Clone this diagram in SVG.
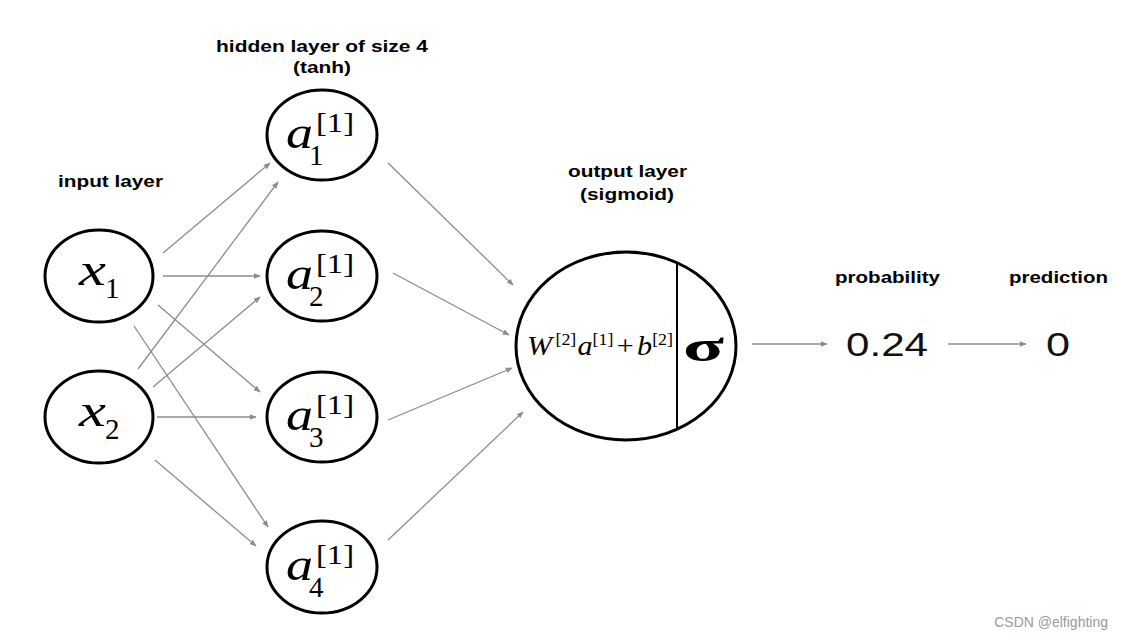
<svg xmlns="http://www.w3.org/2000/svg" width="1124" height="640" viewBox="0 0 1124 640">
<style>
.node{fill:#fff;stroke:#000;stroke-width:3}
.lbl{font-family:"Liberation Sans",Arial,sans-serif;font-weight:bold;font-size:17px;fill:#000}
.var{font-family:"Liberation Serif","Times New Roman",serif;font-style:italic;font-size:47px;fill:#000}
.sub{font-family:"Liberation Serif","Times New Roman",serif;font-size:29px;fill:#000}
.sup{font-family:"Liberation Serif","Times New Roman",serif;font-size:28px;fill:#000}
.eq{font-family:"Liberation Serif","Times New Roman",serif;font-size:27px;fill:#000}
.num{font-family:"Liberation Sans",Arial,sans-serif;font-size:33px;fill:#111}
.conn line{stroke:#8c8c8c;stroke-width:1.3;marker-end:url(#ah)}
</style>
<defs>
<marker id="ah" viewBox="0 0 10 10" refX="9" refY="5" markerWidth="7" markerHeight="7" markerUnits="userSpaceOnUse" orient="auto">
<path d="M0,1 L10,5 L0,9 z" fill="#8c8c8c"/>
</marker>
</defs>
<rect width="1124" height="640" fill="#fff"/>

<g id="labels">
<text class="lbl" x="216" y="52" textLength="212" lengthAdjust="spacingAndGlyphs">hidden layer of size 4</text>
<text class="lbl" x="293" y="73" textLength="58" lengthAdjust="spacingAndGlyphs">(tanh)</text>
<text class="lbl" x="58" y="187" textLength="105" lengthAdjust="spacingAndGlyphs">input layer</text>
<text class="lbl" x="568" y="177" textLength="119" lengthAdjust="spacingAndGlyphs">output layer</text>
<text class="lbl" x="580" y="200" textLength="94" lengthAdjust="spacingAndGlyphs">(sigmoid)</text>
<text class="lbl" x="835" y="283" textLength="105" lengthAdjust="spacingAndGlyphs">probability</text>
<text class="lbl" x="1009" y="283" textLength="99" lengthAdjust="spacingAndGlyphs">prediction</text>
</g>

<g class="conn" id="connectors">
<line x1="163" y1="253" x2="270" y2="163"/>
<line x1="138" y1="369" x2="278" y2="182"/>
<line x1="163" y1="276" x2="260" y2="276"/>
<line x1="153" y1="387" x2="260" y2="297"/>
<line x1="158" y1="305" x2="260" y2="392"/>
<line x1="157" y1="417" x2="256" y2="417"/>
<line x1="134" y1="326" x2="268" y2="527"/>
<line x1="155" y1="460" x2="256" y2="546"/>
<line x1="388" y1="163" x2="513" y2="285"/>
<line x1="393" y1="273" x2="509" y2="335"/>
<line x1="388" y1="420" x2="512" y2="368"/>
<line x1="388" y1="540" x2="523" y2="412"/>
<line x1="752" y1="344" x2="827" y2="344"/>
<line x1="948" y1="344" x2="1026" y2="344"/>
</g>

<g id="x1">
<ellipse class="node" cx="99" cy="276" rx="54" ry="46"/>
<text class="var" x="79" y="285" textLength="27" lengthAdjust="spacingAndGlyphs">x</text>
<text class="sub" x="105" y="298">1</text>
</g>
<g id="x2">
<ellipse class="node" cx="99" cy="417" rx="54" ry="46"/>
<text class="var" x="79" y="426" textLength="27" lengthAdjust="spacingAndGlyphs">x</text>
<text class="sub" x="105" y="439">2</text>
</g>

<g id="a1">
<ellipse class="node" cx="322" cy="135" rx="55" ry="45"/>
<text class="var" x="286" y="148" textLength="27" lengthAdjust="spacingAndGlyphs">a</text>
<text class="sub" x="309" y="165">1</text>
<text class="sup" x="316" y="132" textLength="38" lengthAdjust="spacingAndGlyphs">[1]</text>
</g>
<g id="a2">
<ellipse class="node" cx="322" cy="276" rx="55" ry="45"/>
<text class="var" x="286" y="289" textLength="27" lengthAdjust="spacingAndGlyphs">a</text>
<text class="sub" x="309" y="306">2</text>
<text class="sup" x="316" y="273" textLength="38" lengthAdjust="spacingAndGlyphs">[1]</text>
</g>
<g id="a3">
<ellipse class="node" cx="322" cy="417" rx="55" ry="45"/>
<text class="var" x="286" y="430" textLength="27" lengthAdjust="spacingAndGlyphs">a</text>
<text class="sub" x="309" y="447">3</text>
<text class="sup" x="316" y="414" textLength="38" lengthAdjust="spacingAndGlyphs">[1]</text>
</g>
<g id="a4">
<ellipse class="node" cx="322" cy="567" rx="55" ry="46"/>
<text class="var" x="286" y="580" textLength="27" lengthAdjust="spacingAndGlyphs">a</text>
<text class="sub" x="309" y="597">4</text>
<text class="sup" x="316" y="564" textLength="38" lengthAdjust="spacingAndGlyphs">[1]</text>
</g>

<g id="output">
<ellipse class="node" cx="626" cy="346" rx="110" ry="94"/>
<line x1="677" y1="264" x2="677" y2="429" stroke="#000" stroke-width="2"/>
<text class="eq" x="527" y="355" textLength="146" lengthAdjust="spacingAndGlyphs"><tspan font-style="italic">W</tspan><tspan font-size="16" dy="-10" dx="3">[2]</tspan><tspan font-style="italic" dy="10" dx="1">a</tspan><tspan font-size="16" dy="-10">[1]</tspan><tspan dy="10" dx="3">+</tspan><tspan font-style="italic" dx="3">b</tspan><tspan font-size="16" dy="-10">[2]</tspan></text>
<text x="683" y="361" font-family="'Liberation Serif','Times New Roman',serif" font-weight="bold" font-size="44" fill="#000" textLength="41" lengthAdjust="spacingAndGlyphs">σ</text>
</g>

<g id="prob">
<text class="num" x="846" y="356" textLength="82" lengthAdjust="spacingAndGlyphs">0.24</text>
</g>
<g id="pred">
<text class="num" x="1046" y="356" textLength="24" lengthAdjust="spacingAndGlyphs">0</text>
</g>

<text x="1108" y="627" font-family="'Liberation Sans',Arial,sans-serif" font-size="14" fill="#999" text-anchor="end">CSDN @elfighting</text>
</svg>
